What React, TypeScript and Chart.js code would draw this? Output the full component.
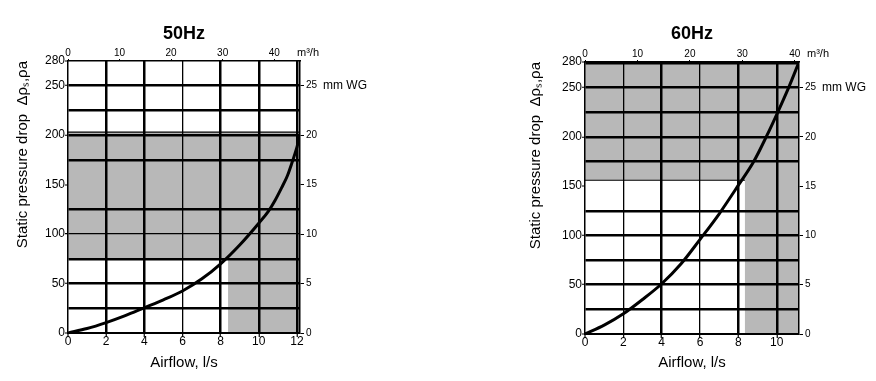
import React, { useEffect, useRef } from 'react';
import { Chart, registerables } from 'chart.js';

Chart.register(...registerables);

// ---------- 50 Hz data ----------
const curve50Airflow = [0, 1, 2, 3, 4, 5, 6, 7, 8, 9, 10, 10.5, 10.85, 11.2, 11.5, 11.72, 12, 12.16];
const curve50Pressure = [0, 4.5, 10.5, 17.5, 25.5, 33.5, 42.5, 54.5, 70, 89, 111, 123, 134, 147, 159, 171, 188, 200];
const shade50Airflow = [0, 0, 12.16, 12.16, 8.39, 8.39];
const shade50Pressure = [75, 203, 203, 0, 0, 75];
const edge50Airflow = [0, 12.16];
const edge50Pressure = [203, 203];

// ---------- 60 Hz data ----------
const curve60Airflow = [0, 1, 2, 3, 4, 5, 6, 7, 8, 8.8, 9.45, 10.05, 10.62, 11.16];
const curve60Pressure = [0, 9, 20.5, 35, 51, 71, 96, 122, 151, 175, 200, 225, 250, 276];
const shade60Airflow = [8.34, 0, 0, 11.16, 11.16, 8.34];
const shade60Pressure = [156, 156, 276, 276, 0, 0];
const edge60Airflow = [0, 8.34];
const edge60Pressure = [156, 156];

// ---------- axes / labels ----------
const titles = ['50Hz', '60Hz'];
const airflowTitle = 'Airflow, l/s';
const pressureTitle = 'Static pressure drop  Δρₛ,ρa';
const pressureTickValues = [0, 50, 100, 150, 200, 250];
const pressureTopLabel = '280';
const pressureGridStep = 25;
const airflowTickStep = 2;
const m3hTickStep = 10;
const mmwgTickStep = 5;
const paPerMmWG = 10;
const m3hUnit = 'm³/h';
const mmwgUnit = 'mm WG';
const mmwgUnitAt = 25;

const W = 438;
const H = 381;
const FONT = "'Liberation Sans', Arial, Helvetica, sans-serif";
const BLACK = '#000000';
const GRAY = '#b8b8b8';

type Panel = {
  title: string;
  curveX: number[];
  curveY: number[];
  shadeX: number[];
  shadeY: number[];
  edgeX: number[];
  edgeY: number[];
  airflowMax: number;
  pressureMax: number;
  m3hMax: number;
  thinAirflow: number[];
  thinPressure: number[];
  missingPressure: number[];
  plot: { left: number; top: number; right: number; bottom: number };
  yTitlePad: number;
  unitDx: number;
};

const panels: Panel[] = [
  {
    title: titles[0],
    curveX: curve50Airflow,
    curveY: curve50Pressure,
    shadeX: shade50Airflow,
    shadeY: shade50Pressure,
    edgeX: edge50Airflow,
    edgeY: edge50Pressure,
    airflowMax: 12.16,
    pressureMax: 275,
    m3hMax: 45,
    thinAirflow: [6],
    thinPressure: [100],
    missingPressure: [150],
    plot: { left: 68, top: 61, right: 300, bottom: 333 },
    yTitlePad: 14,
    unitDx: -3,
  },
  {
    title: titles[1],
    curveX: curve60Airflow,
    curveY: curve60Pressure,
    shadeX: shade60Airflow,
    shadeY: shade60Pressure,
    edgeX: edge60Airflow,
    edgeY: edge60Pressure,
    airflowMax: 11.16,
    pressureMax: 276,
    m3hMax: 40.8,
    thinAirflow: [2, 6],
    thinPressure: [],
    missingPressure: [150],
    plot: { left: 147, top: 62, right: 361, bottom: 334 },
    yTitlePad: 89,
    unitDx: 8,
  },
];

const toPoints = (xs: number[], ys: number[]) => xs.map((x, i) => ({ x, y: ys[i] }));

function buildConfig(p: Panel): any {
  const textPlugin = {
    id: 'panelText',
    afterDraw(chart: any) {
      const { ctx, chartArea } = chart;
      ctx.save();
      ctx.fillStyle = BLACK;
      ctx.font = `bold 18px ${FONT}`;
      ctx.textAlign = 'center';
      ctx.textBaseline = 'alphabetic';
      ctx.fillText(p.title, (chartArea.left + chartArea.right) / 2, 39);
      ctx.font = `11px ${FONT}`;
      ctx.textAlign = 'left';
      ctx.fillText(m3hUnit, chartArea.right + p.unitDx, chartArea.top - 5);
      const y2 = chart.scales.y2;
      ctx.font = `12px ${FONT}`;
      ctx.textBaseline = 'middle';
      ctx.fillText(mmwgUnit, chartArea.right + 23, y2.getPixelForValue(mmwgUnitAt));
      ctx.restore();
    },
  };

  const gridWidthX = (ctx: any) => {
    const v = ctx.tick ? ctx.tick.value : 0;
    if (v === 0) return 0;
    return p.thinAirflow.includes(v) ? 1.3 : 2.5;
  };
  const gridWidthY = (ctx: any) => {
    const v = ctx.tick ? ctx.tick.value : 0;
    if (v === 0 || v >= p.pressureMax) return 0;
    if (p.missingPressure.includes(v)) return 0;
    return p.thinPressure.includes(v) ? 1.3 : 2.5;
  };

  return {
    type: 'line',
    data: {
      datasets: [
        {
          data: toPoints(p.curveX, p.curveY),
          borderColor: BLACK,
          borderWidth: 3,
          pointRadius: 0,
          fill: false,
          cubicInterpolationMode: 'monotone',
        },
        {
          data: toPoints(p.edgeX, p.edgeY),
          borderColor: BLACK,
          borderWidth: 1.2,
          pointRadius: 0,
          fill: false,
        },
        {
          data: toPoints(p.shadeX, p.shadeY),
          borderColor: 'rgba(0,0,0,0)',
          borderWidth: 0,
          backgroundColor: GRAY,
          pointRadius: 0,
          fill: 'shape',
          tension: 0,
        },
      ],
    },
    options: {
      responsive: false,
      animation: false,
      events: [],
      layout: { padding: 0 },
      plugins: {
        legend: { display: false },
        tooltip: { enabled: false },
        title: { display: false },
      },
      scales: {
        x: {
          type: 'linear',
          position: 'bottom',
          min: 0,
          max: p.airflowMax,
          ticks: {
            stepSize: airflowTickStep,
            includeBounds: false,
            color: BLACK,
            font: { family: FONT, size: 12 },
            padding: -3,
            maxRotation: 0,
            autoSkip: false,
          },
          grid: {
            z: 1,
            color: BLACK,
            lineWidth: gridWidthX,
            drawTicks: true,
            tickLength: 4,
            tickWidth: 1.2,
            tickColor: BLACK,
          },
          border: { display: true, color: BLACK, width: 2, z: 1 },
          title: {
            display: true,
            text: airflowTitle,
            color: BLACK,
            font: { family: FONT, size: 15 },
            padding: { top: 0, bottom: 9 },
          },
          afterFit: (s: any) => {
            s.height = H - p.plot.bottom;
          },
        },
        x2: {
          type: 'linear',
          position: 'top',
          min: 0,
          max: p.m3hMax,
          ticks: {
            stepSize: m3hTickStep,
            includeBounds: false,
            color: BLACK,
            font: { family: FONT, size: 10 },
            padding: 0,
            maxRotation: 0,
            autoSkip: false,
          },
          grid: { drawOnChartArea: false, tickLength: 2, color: BLACK, tickWidth: 1 },
          border: { display: true, color: BLACK, width: 1.5, z: 1 },
          afterFit: (s: any) => {
            s.height = p.plot.top;
          },
        },
        y: {
          type: 'linear',
          position: 'left',
          min: 0,
          max: p.pressureMax,
          afterBuildTicks: (s: any) => {
            const vals: number[] = [];
            for (let v = 0; v < p.pressureMax; v += pressureGridStep) vals.push(v);
            vals.push(p.pressureMax);
            s.ticks = vals.map((v) => ({ value: v }));
          },
          ticks: {
            autoSkip: false,
            color: BLACK,
            font: { family: FONT, size: 12 },
            padding: 0,
            callback: (v: any) => {
              if (v === p.pressureMax) return pressureTopLabel;
              return pressureTickValues.includes(v) ? String(v) : '';
            },
          },
          grid: {
            z: 1,
            color: BLACK,
            lineWidth: gridWidthY,
            drawTicks: true,
            tickLength: 3,
            tickWidth: 1.2,
            tickColor: (ctx: any) => {
              const v = ctx.tick ? ctx.tick.value : -1;
              return pressureTickValues.includes(v) || v === p.pressureMax ? BLACK : 'rgba(0,0,0,0)';
            },
          },
          border: { display: true, color: BLACK, width: 1.5, z: 1 },
          title: {
            display: true,
            text: pressureTitle,
            align: 'end',
            color: BLACK,
            font: { family: FONT, size: 15 },
            padding: { top: p.yTitlePad, bottom: 0 },
          },
          afterFit: (s: any) => {
            s.width = p.plot.left;
          },
        },
        y2: {
          type: 'linear',
          position: 'right',
          min: 0,
          max: p.pressureMax / paPerMmWG,
          ticks: {
            stepSize: mmwgTickStep,
            includeBounds: false,
            color: BLACK,
            font: { family: FONT, size: 10 },
            padding: 2,
            autoSkip: false,
          },
          grid: { drawOnChartArea: false, tickLength: 4, color: BLACK, tickWidth: 1 },
          border: { display: true, color: BLACK, width: 1.5, z: 1 },
          afterFit: (s: any) => {
            s.width = W - p.plot.right;
          },
        },
      },
    },
    plugins: [textPlugin],
  };
}

function PanelChart({ panel, left }: { panel: Panel; left: number }) {
  const ref = useRef<HTMLCanvasElement>(null);
  useEffect(() => {
    if (!ref.current) return;
    const chart = new Chart(ref.current, buildConfig(panel));
    return () => chart.destroy();
  }, [panel]);
  return (
    <canvas
      ref={ref}
      width={W}
      height={H}
      style={{ position: 'absolute', left, top: 0, width: W, height: H }}
    />
  );
}

export default function App() {
  return (
    <div
      style={{
        position: 'absolute',
        left: 0,
        top: 0,
        width: 876,
        height: 381,
        background: '#ffffff',
        overflow: 'hidden',
      }}
    >
      <PanelChart panel={panels[0]} left={0} />
      <PanelChart panel={panels[1]} left={W} />
    </div>
  );
}
